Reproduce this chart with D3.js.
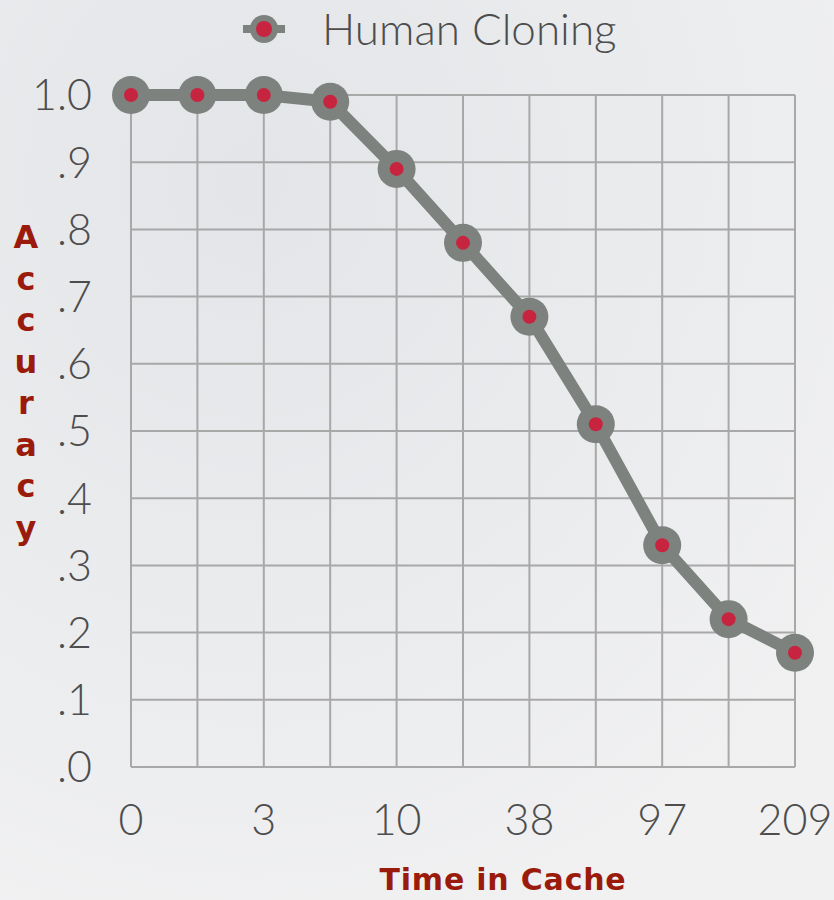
<!DOCTYPE html>
<html><head><meta charset="utf-8">
<script src="https://cdn.jsdelivr.net/npm/d3@7"></script>
<style>html,body{margin:0;padding:0;overflow:hidden;}</style>
</head><body>
<svg id="chart" width="834" height="900"></svg>
<script>
const categories = ["0","1","3","5","10","20","38","60","97","150","209"];
const shownLabels = ["0","3","10","38","97","209"];
const accuracy = [1.0, 1.0, 1.0, 0.99, 0.89, 0.78, 0.67, 0.51, 0.33, 0.22, 0.17];
const yTicks = [0,0.1,0.2,0.3,0.4,0.5,0.6,0.7,0.8,0.9,1.0];
const yTickLabels = [".0",".1",".2",".3",".4",".5",".6",".7",".8",".9","1.0"];
const seriesName = "Human Cloning";

const svg = d3.select("#chart");
const defs = svg.append("defs");
const g1 = defs.append("radialGradient").attr("id","bg").attr("cx","30%").attr("cy","20%").attr("r","90%");
g1.append("stop").attr("offset","0%").attr("stop-color","#e3e5e8");
g1.append("stop").attr("offset","100%").attr("stop-color","#f1f1f2");
svg.append("rect").attr("width",834).attr("height",900).attr("fill","url(#bg)");

const x = d3.scalePoint().domain(categories).range([131,795]);
const y = d3.scaleLinear().domain([0,1]).range([767,95]);

const gridColor = "#a8a8a8";
svg.append("g").selectAll("line").data(categories).join("line")
  .attr("x1",d=>x(d)).attr("x2",d=>x(d)).attr("y1",y(1)).attr("y2",y(0))
  .attr("stroke",gridColor).attr("stroke-width",2);
svg.append("g").selectAll("line").data(yTicks).join("line")
  .attr("x1",x(categories[0])).attr("x2",x(categories[categories.length-1])).attr("y1",d=>y(d)).attr("y2",d=>y(d))
  .attr("stroke",gridColor).attr("stroke-width",2);

const font = "Lato, 'Open Sans', sans-serif";
const boldFont = "'DejaVu Sans', Verdana, sans-serif";
svg.append("g").selectAll("text").data(yTicks).join("text")
  .attr("x",92).attr("y",d=>y(d)).attr("dy","0.36em")
  .attr("text-anchor","end").attr("font-family",font).attr("font-weight",300)
  .attr("font-size",43).attr("fill","#4d4d4d").text((d,i)=>yTickLabels[i]);
svg.append("g").selectAll("text").data(shownLabels).join("text")
  .attr("x",d=>x(d)).attr("y",835)
  .attr("text-anchor","middle").attr("font-family",font).attr("font-weight",300)
  .attr("font-size",43).attr("fill","#4d4d4d").text(d=>d);

svg.append("text").attr("x",503).attr("y",890).attr("text-anchor","middle")
  .attr("font-family",boldFont).attr("font-weight",700).attr("font-size",30)
  .attr("letter-spacing",0.8)
  .attr("fill","#9a1b0b").text("Time in Cache");
const yTitle = "Accuracy".split("");
svg.append("g").selectAll("text").data(yTitle).join("text")
  .attr("x",26).attr("y",(d,i)=>248+i*41.5).attr("text-anchor","middle")
  .attr("font-family",boldFont).attr("font-weight",700).attr("font-size",32)
  .attr("fill","#9a1b0b").text(d=>d);

const lineColor = "#7d827f", dotColor = "#c7243f";
const data = categories.map((c,i)=>({c, v: accuracy[i]}));
svg.append("path").datum(data)
  .attr("d", d3.line().x(d=>x(d.c)).y(d=>y(d.v)))
  .attr("fill","none").attr("stroke",lineColor).attr("stroke-width",12).attr("stroke-linejoin","round");
svg.append("g").selectAll("circle").data(data).join("circle")
  .attr("cx",d=>x(d.c)).attr("cy",d=>y(d.v)).attr("r",19).attr("fill",lineColor);
svg.append("g").selectAll("circle").data(data).join("circle")
  .attr("cx",d=>x(d.c)).attr("cy",d=>y(d.v)).attr("r",7).attr("fill",dotColor);

const lg = svg.append("g");
lg.append("line").attr("x1",243).attr("x2",285).attr("y1",29).attr("y2",29).attr("stroke",lineColor).attr("stroke-width",8);
lg.append("circle").attr("cx",264).attr("cy",29).attr("r",14).attr("fill",lineColor);
lg.append("circle").attr("cx",264).attr("cy",29).attr("r",8).attr("fill",dotColor);
lg.append("text").attr("x",322).attr("y",45).attr("font-family",font).attr("font-weight",300)
  .attr("font-size",44).attr("fill","#4d4d4d").text(seriesName);
</script>
</body></html>
